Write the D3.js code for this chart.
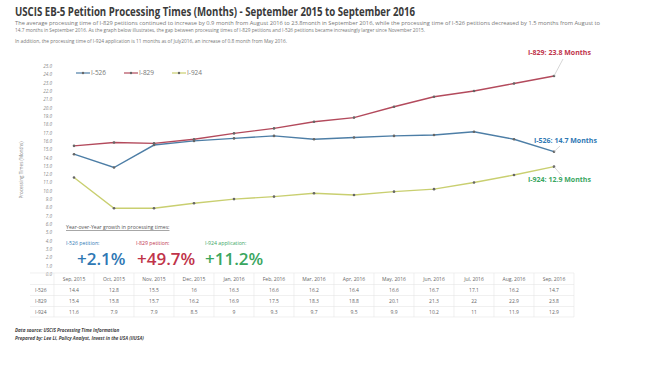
<!DOCTYPE html>
<html><head><meta charset="utf-8">
<script src="https://cdn.jsdelivr.net/npm/d3@7"></script>
<style>body{margin:0;background:#fff}svg{display:block}</style>
</head><body>
<script>
const months = ["Sep, 2015","Oct, 2015","Nov, 2015","Dec, 2015","Jan, 2016","Feb, 2016","Mar, 2016","Apr, 2016","May, 2016","Jun, 2016","Jul, 2016","Aug, 2016","Sep, 2016"];
const i526 = [14.4,12.8,15.5,16,16.3,16.6,16.2,16.4,16.6,16.7,17.1,16.2,14.7];
const i829 = [15.4,15.8,15.7,16.2,16.9,17.5,18.3,18.8,20.1,21.3,22,22.9,23.8];
const i924 = [11.6,7.9,7.9,8.5,9,9.3,9.7,9.5,9.9,10.2,11,11.9,12.9];
const seriesNames = ["I-526","I-829","I-924"];
const colors = ["#4d7ea6","#b34a5c","#c9cf70"];
const labelColors = ["#2f78b4","#c0334a","#3aa65f"];
const growth = ["+2.1%","+49.7%","+11.2%"];
const growthLabels = ["I-526 petition:","I-829 petition:","I-924 application:"];
const yTicks = d3.range(0,26,1);

const W=650,H=365;
const svg=d3.select("body").append("svg").attr("width",W).attr("height",H);
const font="'Open Sans', sans-serif";

svg.append("text").attr("x",15).attr("y",16).attr("font-family",font).attr("font-weight","bold")
  .attr("font-size",12).attr("fill","#3a3a3a").attr("textLength",400).attr("lengthAdjust","spacingAndGlyphs")
  .text("USCIS EB-5 Petition Processing Times (Months) - September 2015 to September 2016");
const para=[
 ["The average processing time of I-829 petitions continued to increase by 0.9 month from August  2016 to 23.8month in September 2016, while the processing time of I-526 petitions decreased by 1.5 months from August to",25,585],
 ["14.7 months in September 2016. As the graph below illustrates, the gap between processing times of I-829 petitions and I-526 petitions became increasingly larger since November 2015.",32,410],
 ["In addition, the processing time of I-924 application is 11 months as of July2016, an increase of 0.8 month from May 2016.",43,272]];
para.forEach(p=>svg.append("text").attr("x",15).attr("y",p[1]).attr("font-family",font).attr("font-size",5)
  .attr("fill","#777").attr("textLength",p[2]).attr("lengthAdjust","spacingAndGlyphs").text(p[0]));

const x=d3.scalePoint().domain(months).range([74,554]);
const y=d3.scaleLinear().domain([0,25]).range([274,66]);

const yAxis=svg.append("g").attr("transform","translate(54,0)")
  .call(d3.axisLeft(y).tickValues(yTicks).tickFormat(d3.format(".1f")).tickSize(0).tickPadding(2));
yAxis.select(".domain").remove();
yAxis.selectAll("text").attr("font-family",font).attr("font-size",4.6).attr("font-style","italic").attr("fill","#888");
svg.append("text").attr("transform","translate(23,170) rotate(-90)").attr("text-anchor","middle")
  .attr("font-family",font).attr("font-size",4.6).attr("fill","#888").text("Processing Times (Months)");

const data=[i526,i829,i924];
const line=d3.line().x((d,i)=>x(months[i])).y(d=>y(d));
data.forEach((s,k)=>{
  svg.append("path").datum(s).attr("d",line).attr("fill","none").attr("stroke",colors[k]).attr("stroke-width",1.4);
  svg.append("g").selectAll("circle").data(s).join("circle").attr("cx",(d,i)=>x(months[i])).attr("cy",d=>y(d))
    .attr("r",1.3).attr("fill","#666");
});

// legend
const lg=svg.append("g").attr("font-family",font).attr("font-size",6.5).attr("fill","#777");
[76,124,172].forEach((lx,k)=>{
  lg.append("line").attr("x1",lx).attr("x2",lx+14).attr("y1",73).attr("y2",73).attr("stroke",colors[k]).attr("stroke-width",1.2);
  lg.append("circle").attr("cx",lx+7).attr("cy",73).attr("r",1.2).attr("fill","#666");
  lg.append("text").attr("x",lx+15).attr("y",75.3).text(seriesNames[k]);
});

// end annotations
const last=months.length-1;
const ann=[[1,"I-829: 23.8 Months",528,55,[563,59]],[0,"I-526: 14.7 Months",534,143,[560,146]],[2,"I-924: 12.9 Months",528,182,[562,176]]];
ann.forEach(a=>{
  const s=data[a[0]];
  svg.append("line").attr("x1",x(months[last])).attr("y1",y(s[last])).attr("x2",a[4][0]).attr("y2",a[4][1]).attr("stroke","#bbb").attr("stroke-width",0.6);
  svg.append("text").attr("x",a[2]).attr("y",a[3]).attr("font-family",font).attr("font-weight","bold").attr("font-size",7)
    .attr("fill",labelColors[a[0]]).text(a[1]);
});

// growth section
svg.append("text").attr("x",66).attr("y",229).attr("font-family",font).attr("font-size",5.2).attr("fill","#555")
  .attr("text-decoration","underline").text("Year-over-Year growth in processing times:");
[66,136,205].forEach((gx,k)=>{
  svg.append("text").attr("x",gx).attr("y",245).attr("font-family",font).attr("font-size",5.2).attr("fill",labelColors[k]).text(growthLabels[k]);
});
[77,137,205].forEach((gx,k)=>{
  svg.append("text").attr("x",gx).attr("y",265).attr("font-family",font).attr("font-size",17).attr("font-weight",600).attr("fill",labelColors[k]).text(growth[k]);
});

// table
const tb=svg.append("g").attr("font-family",font).attr("font-size",5).attr("fill","#666");
const rowsY=[279,290,301,312];
const colW=x.step();
const left=x(months[0])-colW/2, right=x(months[last])+colW/2;
[273,284.5,295.5,306.5,317].forEach(ly=>tb.append("line").attr("x1",30).attr("x2",right).attr("y1",ly).attr("y2",ly).attr("stroke","#e6e6e6").attr("stroke-width",0.6));
months.forEach((m,i)=>{
  const cx=x(m);
  tb.append("line").attr("x1",cx+colW/2).attr("x2",cx+colW/2).attr("y1",273).attr("y2",317).attr("stroke","#e6e6e6").attr("stroke-width",0.6);
  tb.append("text").attr("x",cx).attr("y",rowsY[0]+1.5).attr("text-anchor","middle").text(m);
  data.forEach((s,k)=>tb.append("text").attr("x",cx).attr("y",rowsY[k+1]+1.5).attr("text-anchor","middle").text(s[i]));
});
tb.append("line").attr("x1",left).attr("x2",left).attr("y1",273).attr("y2",317).attr("stroke","#e6e6e6").attr("stroke-width",0.6);
seriesNames.forEach((n,k)=>tb.append("text").attr("x",35).attr("y",rowsY[k+1]+1.5).text(n));

svg.append("text").attr("x",15).attr("y",332).attr("font-family",font).attr("font-size",4.6).attr("font-style","italic").attr("font-weight","bold").attr("fill","#444").text("Data source: USCIS Processing Time Information");
svg.append("text").attr("x",15).attr("y",340).attr("font-family",font).attr("font-size",4.6).attr("font-style","italic").attr("font-weight","bold").attr("fill","#444").text("Prepared by: Lee Li, Policy Analyst, Invest in the USA (IIUSA)");
</script>
</body></html>
